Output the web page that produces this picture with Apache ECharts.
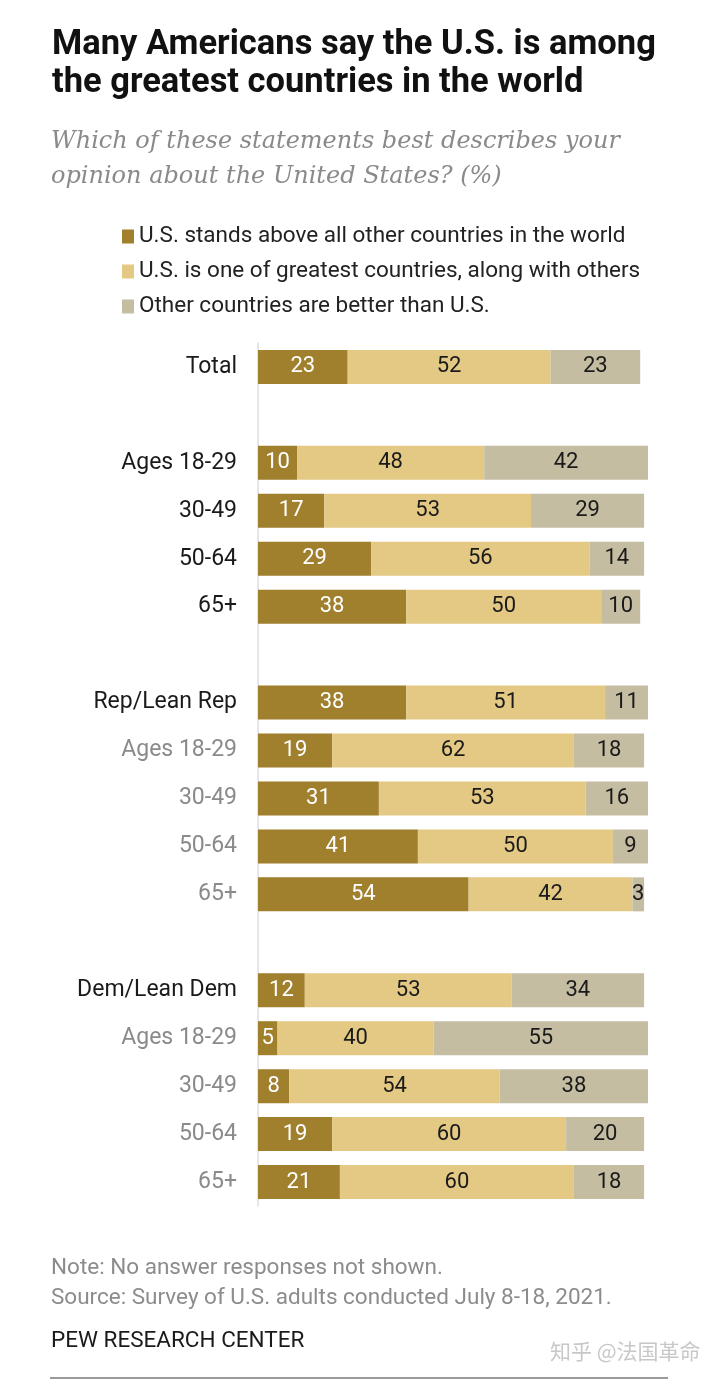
<!DOCTYPE html>
<html>
<head>
<meta charset="utf-8">
<script src="https://cdn.jsdelivr.net/npm/echarts@6/dist/echarts.min.js"></script>
<style>
html,body{margin:0;padding:0;background:#fff;}
#c{width:720px;height:1381px;}
</style>
</head>
<body>
<div id="c"></div>
<script>
var categories = ['Total', ' ', 'Ages 18-29', '30-49', '50-64', '65+', '  ',
  'Rep/Lean Rep', 'Ages 18-29 ', '30-49 ', '50-64 ', '65+ ', '   ',
  'Dem/Lean Dem', 'Ages 18-29  ', '30-49  ', '50-64  ', '65+  '];
var seriesNames = ['U.S. stands above all other countries in the world',
  'U.S. is one of greatest countries, along with others',
  'Other countries are better than U.S.'];
var standsAbove = [23, null, 10, 17, 29, 38, null, 38, 19, 31, 41, 54, null, 12, 5, 8, 19, 21];
var oneOfGreatest = [52, null, 48, 53, 56, 50, null, 51, 62, 53, 50, 42, null, 53, 40, 54, 60, 60];
var othersBetter = [23, null, 42, 29, 14, 10, null, 11, 18, 16, 9, 3, null, 34, 55, 38, 20, 18];

var chart = echarts.init(document.getElementById('c'), null, {renderer: 'canvas'});
var FONT = 'Roboto, "Liberation Sans", sans-serif';
var repIdx = categories.indexOf('Rep/Lean Rep');
var demIdx = categories.indexOf('Dem/Lean Dem');

function labelFmt(value, index) {
  var t = value.trim();
  var sub = index > repIdx && index !== demIdx;
  return sub ? '{g|' + t + '}' : '{b|' + t + '}';
}

var colors = ['#a07f2d', '#e4c985', '#c4bda2'];
var vals = [standsAbove, oneOfGreatest, othersBetter];
var series = vals.map(function (arr, i) {
  return {
    name: seriesNames[i],
    type: 'bar',
    stack: 'total',
    barWidth: 34,
    data: arr,
    itemStyle: {color: colors[i]},
    label: {
      show: true,
      position: 'inside',
      color: i === 0 ? '#ffffff' : '#1a1a1a',
      fontSize: 22,
      fontFamily: FONT
    },
    emphasis: {disabled: true},
    animation: false
  };
});

chart.setOption({
  animation: false,
  textStyle: {fontFamily: FONT},
  title: [
    {
      text: 'Many Americans say the U.S. is among\nthe greatest countries in the world',
      left: 47, top: 21,
      textStyle: {fontFamily: FONT, fontWeight: 'bold', fontSize: 34.5, lineHeight: 38, color: '#111'}
    },
    {
      text: 'Which of these statements best describes your\nopinion about the United States? (%)',
      left: 46, top: 119,
      textStyle: {fontFamily: '"DejaVu Serif", serif', fontStyle: 'italic', fontWeight: 'normal', fontSize: 24, lineHeight: 35, color: '#8a8a8a'}
    },
    {
      text: 'Note: No answer responses not shown.\nSource: Survey of U.S. adults conducted July 8-18, 2021.',
      left: 46, top: 1248,
      textStyle: {fontFamily: FONT, fontWeight: 'normal', fontSize: 22.5, lineHeight: 30, color: '#8c8c8c'}
    },
    {
      text: 'PEW RESEARCH CENTER',
      left: 46, top: 1324,
      textStyle: {fontFamily: FONT, fontWeight: 'normal', fontSize: 22.5, lineHeight: 24, color: '#1a1a1a'}
    },
    {
      text: '知乎 @法国革命',
      left: 545, top: 1334,
      textStyle: {fontFamily: '"Noto Sans CJK SC", sans-serif', fontWeight: 'normal', fontSize: 21, lineHeight: 24, color: '#c8c8c8'}
    }
  ],
  legend: {
    orient: 'vertical',
    left: 117, top: 220,
    itemWidth: 12, itemHeight: 14,
    itemGap: 12,
    icon: 'rect',
    selectedMode: false,
    data: seriesNames,
    textStyle: {fontFamily: FONT, fontSize: 22.5, lineHeight: 23, color: '#222'}
  },
  grid: {left: 258, right: 72, top: 343, height: 863, containLabel: false},
  xAxis: {
    type: 'value', min: 0, max: 100,
    show: false
  },
  yAxis: {
    type: 'category',
    inverse: true,
    data: categories,
    axisTick: {show: false},
    axisLine: {show: true, lineStyle: {color: '#dcdce4', width: 1.5}},
    axisLabel: {
      margin: 21,
      formatter: labelFmt,
      rich: {
        b: {fontFamily: FONT, fontSize: 23, color: '#1a1a1a'},
        g: {fontFamily: FONT, fontSize: 23, color: '#8a8a8a'}
      }
    }
  },
  graphic: [
    {type: 'line', shape: {x1: 50, y1: 1378, x2: 668, y2: 1378}, style: {stroke: '#9a9a9a', lineWidth: 2}}
  ],
  series: series
});
</script>
</body>
</html>
